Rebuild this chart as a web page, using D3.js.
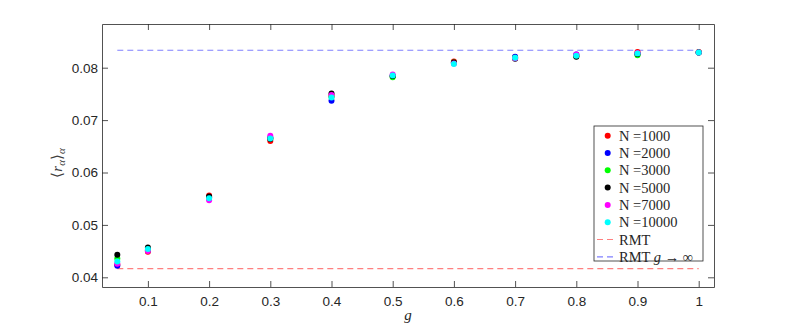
<!DOCTYPE html>
<html>
<head>
<meta charset="utf-8">
<script src="https://cdn.jsdelivr.net/npm/d3@7"></script>
<style>
	body { margin: 0; background: #fff; }
	svg { display: block; }
	.tick text { font-family: "Liberation Sans", Arial, sans-serif; font-size: 13.5px; fill: #262626; }
	.axis path, .axis line { stroke: #262626; stroke-width: 0.8; }
</style>
</head>
<body>
<div id="vis"></div>
<script>
// data
var gValues = [0.05, 0.1, 0.2, 0.3, 0.4, 0.5, 0.6, 0.7, 0.8, 0.9, 1];
var seriesNames = ['N =1000', 'N =2000', 'N =3000', 'N =5000', 'N =7000', 'N =10000'];
var n1000  = [0.0424, 0.0449, 0.0556, 0.0660, 0.0746, 0.0784, 0.0812, 0.0820, 0.0823, 0.0830, 0.0830];
var n2000  = [0.0422, 0.0452, 0.0553, 0.0667, 0.0737, 0.0784, 0.0809, 0.0821, 0.0825, 0.0827, 0.0829];
var n3000  = [0.0436, 0.0451, 0.0552, 0.0666, 0.0744, 0.0782, 0.0810, 0.0819, 0.0822, 0.0824, 0.0829];
var n5000  = [0.0443, 0.0457, 0.0554, 0.0664, 0.0751, 0.0784, 0.0810, 0.0817, 0.0821, 0.0826, 0.0829];
var n7000  = [0.0426, 0.0450, 0.0547, 0.0670, 0.0748, 0.0787, 0.0808, 0.0818, 0.0825, 0.0828, 0.0829];
var n10000 = [0.0430, 0.0454, 0.0551, 0.0665, 0.0743, 0.0785, 0.0807, 0.0819, 0.0823, 0.0827, 0.0829];
var seriesColors = ['#ff0000', '#0000ff', '#00ff00', '#000000', '#ff00ff', '#00ffff'];
var rmtValue = 1 / 24;
var rmtInfValue = 1 / 12;
var xTicks = [0.1, 0.2, 0.3, 0.4, 0.5, 0.6, 0.7, 0.8, 0.9, 1];
var yTicks = [0.04, 0.05, 0.06, 0.07, 0.08];

var width = 789, height = 329;
var axLeft = 102, axRight = 714, axTop = 24, axBottom = 287;

var svg = d3.select('#vis').append('svg')
	.attr('width', width)
	.attr('height', height);

var x = d3.scaleLinear().domain([0.025, 1.025]).range([axLeft, axRight]);
var y = d3.scaleLinear().domain([0.03815, 0.08834]).range([axBottom, axTop]);

// axes, ticks point inward on all four sides (matlab box)
svg.append('g').attr('class', 'axis')
	.attr('transform', 'translate(0,' + axBottom + ')')
	.call(d3.axisBottom(x).tickValues(xTicks).tickSize(-6).tickSizeOuter(0).tickPadding(9)
		.tickFormat(function(d) { return d === 1 ? '1' : d3.format('.1f')(d); }));
svg.append('g').attr('class', 'axis')
	.attr('transform', 'translate(0,' + axTop + ')')
	.call(d3.axisTop(x).tickValues(xTicks).tickSize(-6).tickSizeOuter(0).tickFormat(''));
svg.append('g').attr('class', 'axis')
	.attr('transform', 'translate(' + axLeft + ',0)')
	.call(d3.axisLeft(y).tickValues(yTicks).tickSize(-6).tickSizeOuter(0).tickPadding(4)
		.tickFormat(d3.format('.2f')));
svg.append('g').attr('class', 'axis')
	.attr('transform', 'translate(' + axRight + ',0)')
	.call(d3.axisRight(y).tickValues(yTicks).tickSize(-6).tickSizeOuter(0).tickFormat(''));

// reference lines
svg.append('line')
	.attr('x1', x(gValues[0])).attr('x2', x(gValues[gValues.length - 1]))
	.attr('y1', y(rmtValue)).attr('y2', y(rmtValue))
	.attr('stroke', '#ff8080').attr('stroke-width', 1.2).attr('stroke-dasharray', '6,4');
svg.append('line')
	.attr('x1', x(gValues[0])).attr('x2', x(gValues[gValues.length - 1]))
	.attr('y1', y(rmtInfValue)).attr('y2', y(rmtInfValue))
	.attr('stroke', '#8080ff').attr('stroke-width', 1.2).attr('stroke-dasharray', '6,4');

// points
var allSeries = [n1000, n2000, n3000, n5000, n7000, n10000];
allSeries.forEach(function(vals, i) {
	svg.append('g').selectAll('circle').data(vals)
		.enter().append('circle')
		.attr('cx', function(d, j) { return x(gValues[j]); })
		.attr('cy', function(d) { return y(d); })
		.attr('r', 3)
		.style('fill', seriesColors[i]);
});

// axis labels
svg.append('text')
	.attr('x', (axLeft + axRight) / 2)
	.attr('y', 320)
	.attr('text-anchor', 'middle')
	.style('font-family', '"Liberation Serif", serif')
	.style('font-style', 'italic')
	.style('font-size', '15px')
	.style('fill', '#262626')
	.text('g');

var ylab = svg.append('text')
	.attr('transform', 'translate(62,163) rotate(-90)')
	.attr('text-anchor', 'middle')
	.style('font-family', '"Liberation Serif", serif')
	.style('font-size', '15px')
	.style('fill', '#404040');
ylab.append('tspan').text('\u27E8');
ylab.append('tspan').style('font-style', 'italic').text('r');
ylab.append('tspan').style('font-style', 'italic').style('font-size', '11px').attr('dy', 3).text('\u03B1');
ylab.append('tspan').attr('dy', -3).text('\u27E9');
ylab.append('tspan').style('font-style', 'italic').style('font-size', '11px').attr('dy', 3).text('\u03B1');

// legend
var lx = 594, ly = 126, lw = 109, lh = 135, step = 17.3;
var legend = svg.append('g');
legend.append('rect')
	.attr('x', lx).attr('y', ly).attr('width', lw).attr('height', lh)
	.attr('fill', '#fff').attr('stroke', '#262626').attr('stroke-width', 0.8);

seriesNames.forEach(function(name, i) {
	var cy = ly + 9.7 + i * step;
	legend.append('circle').attr('cx', lx + 13.7).attr('cy', cy).attr('r', 3).style('fill', seriesColors[i]);
	legend.append('text').attr('x', lx + 25).attr('y', cy + 5)
		.style('font-family', '"Liberation Serif", serif').style('font-size', '14.5px').style('fill', '#262626')
		.text(name);
});

var dashItems = [{ color: '#ff8080', label: 'RMT' }, { color: '#8080ff', label: 'RMT' }];
dashItems.forEach(function(item, k) {
	var cy = ly + 9.7 + (6 + k) * step;
	legend.append('line')
		.attr('x1', lx + 3).attr('x2', lx + 21).attr('y1', cy).attr('y2', cy)
		.attr('stroke', item.color).attr('stroke-width', 1.2).attr('stroke-dasharray', '6,4');
	var t = legend.append('text').attr('x', lx + 25).attr('y', cy + 5)
		.style('font-family', '"Liberation Serif", serif').style('font-size', '14.5px').style('fill', '#262626');
	t.append('tspan').text(item.label);
	if (k === 1) {
		t.append('tspan').text(' ');
		t.append('tspan').style('font-style', 'italic').text('g');
		t.append('tspan').text(' \u2192 \u221E');
	}
});
</script>
</body>
</html>
